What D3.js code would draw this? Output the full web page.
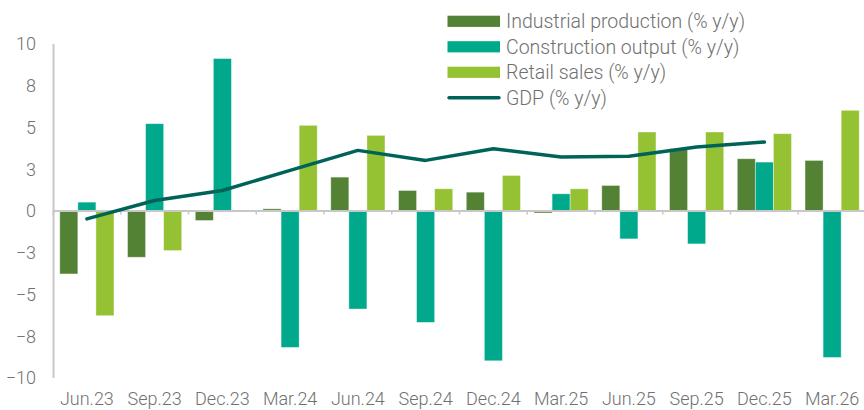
<!DOCTYPE html>
<html><head><meta charset="utf-8">
<script src="https://cdn.jsdelivr.net/npm/d3@7/dist/d3.min.js"></script>
<style>
html,body{margin:0;padding:0;background:#fff;}
svg{display:block;}
text{font-family:Roboto, "Open Sans", sans-serif;font-weight:300;fill:#707070;}
</style></head>
<body><svg id="chart" width="864" height="410"></svg>
<script>
const categories = ["Jun.23","Sep.23","Dec.23","Mar.24","Jun.24","Sep.24","Dec.24","Mar.25","Jun.25","Sep.25","Dec.25","Mar.26"];
const industrial = [-3.8,-2.8,-0.6,0.1,2.0,1.2,1.1,-0.15,1.5,3.7,3.1,3.0];
const construction = [0.5,5.2,9.1,-8.2,-5.9,-6.7,-9.0,1.0,-1.7,-2.0,2.9,-8.8];
const retail = [-6.3,-2.4,0.0,5.1,4.5,1.3,2.1,1.3,4.7,4.7,4.6,6.0];
const gdp = [-0.5,0.6,1.2,2.4,3.6,3.0,3.7,3.2,3.25,3.8,4.1,null];
const yTicks = [-10,-7.5,-5,-2.5,0,2.5,5,7.5,10];
const seriesNames = ["Industrial production (% y/y)","Construction output (% y/y)","Retail sales (% y/y)","GDP (% y/y)"];
const colors = ["#548235","#00A98B","#95C232","#00635A"];

const svg = d3.select("#chart");
const x = d3.scaleBand().domain(categories).range([53, 866]).paddingInner(0).paddingOuter(0);
const y = d3.scaleLinear().domain([-10, 10]).range([377.5, 43.5]);
const barSeries = [industrial, construction, retail];
const groupPad = 0.1;
const sub = d3.scaleBand().domain([0,1,2]).range([x.bandwidth()*groupPad, x.bandwidth()*(1-groupPad)]);

// bars
barSeries.forEach((vals, si) => {
  svg.append("g").selectAll("rect").data(vals).join("rect")
    .attr("x", (d,i) => x(categories[i]) + sub(si))
    .attr("width", sub.bandwidth())
    .attr("y", d => y(Math.max(0,d)))
    .attr("height", d => Math.abs(y(d) - y(0)))
    .attr("fill", colors[si])
    .attr("stroke", "#ffffff").attr("stroke-opacity", 0.5).attr("stroke-width", 0.8);
});

// zero axis
const xAxis = d3.axisBottom(x).tickSize(4).tickFormat("");
const gx = svg.append("g").attr("transform", `translate(0,${y(0)})`).call(xAxis);
gx.select(".domain").attr("stroke", "#c8c8c8").attr("stroke-width", 2);
gx.selectAll(".tick").attr("transform", d => `translate(${x(d)},0)`);
gx.selectAll(".tick line").attr("stroke", "#c8c8c8").attr("stroke-width", 1.5);
// remove tick at first band start (it's the y axis)
gx.selectAll(".tick").filter((d,i) => i===0).remove();

// category labels
svg.append("g").selectAll("text").data(categories).join("text")
  .attr("x", d => x(d) + x.bandwidth()/2)
  .attr("y", 405)
  .attr("text-anchor", "middle")
  .attr("font-size", 18)
  .text(d => d);

// y axis
const yAxis = d3.axisLeft(y).tickValues(yTicks).tickSize(0).tickFormat(d => d3.format(".0f")(Math.sign(d)*Math.round(Math.abs(d))));
const gy = svg.append("g").attr("transform", `translate(53,0)`).call(yAxis);
gy.select(".domain").attr("stroke", "#c8c8c8").attr("stroke-width", 2);
gy.selectAll("text").attr("x", -17).attr("dy", "0.35em").attr("font-size", 18)
  .style("font-family", "Roboto, sans-serif").style("font-weight", 300).attr("fill", "#707070");

// gdp line
const line = d3.line().defined(d => d != null)
  .x((d,i) => x(categories[i]) + x.bandwidth()/2)
  .y(d => y(d));
svg.append("path").datum(gdp).attr("d", line)
  .attr("fill", "none").attr("stroke", colors[3]).attr("stroke-width", 3.5)
  .attr("stroke-linejoin", "round").attr("stroke-linecap", "round");

// legend
const leg = svg.append("g");
seriesNames.forEach((name, i) => {
  const cy = 21.3 + i*25.5;
  if (i < 3) {
    leg.append("rect").attr("x", 447.5).attr("y", cy-5.6).attr("width", 52.5).attr("height", 11.2).attr("fill", colors[i]);
  } else {
    leg.append("line").attr("x1", 449).attr("x2", 499).attr("y1", cy).attr("y2", cy)
      .attr("stroke", colors[3]).attr("stroke-width", 3.5).attr("stroke-linecap", "round");
  }
  leg.append("text").attr("x", 506).attr("y", cy + 7).attr("font-size", 19.5).text(name);
});
</script></body></html>
